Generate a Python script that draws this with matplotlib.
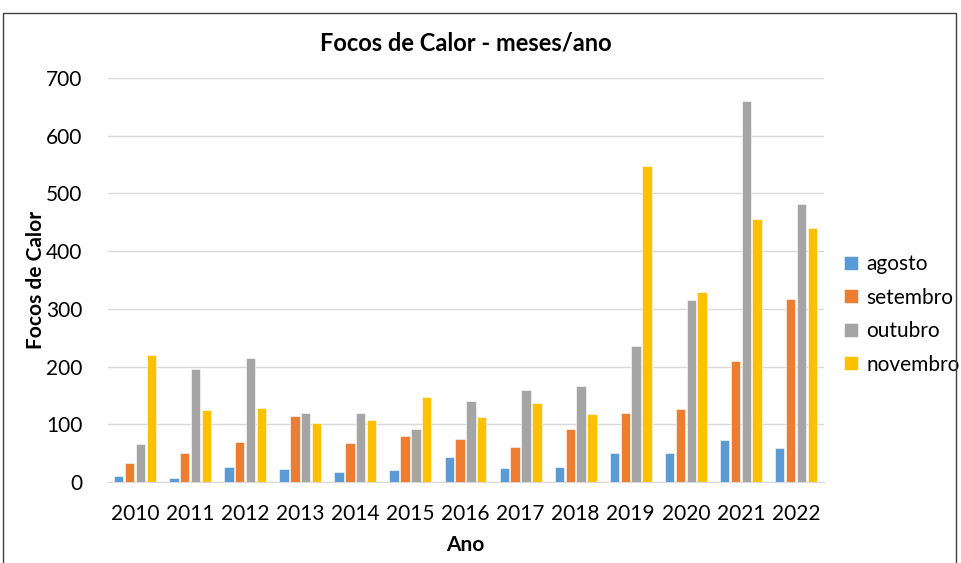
#!/usr/bin/env python3
# coding=utf8

import numpy as np
import matplotlib
matplotlib.use('Agg')
import matplotlib.pyplot as plt
from matplotlib.patches import Rectangle

anos = ['2010', '2011', '2012', '2013', '2014', '2015', '2016',
        '2017', '2018', '2019', '2020', '2021', '2022']
agosto = [10, 7, 26, 22, 18, 21, 43, 25, 26, 50, 50, 73, 59]
setembro = [33, 51, 70, 114, 68, 80, 75, 61, 91, 120, 127, 209, 317]
outubro = [66, 195, 215, 120, 120, 92, 140, 159, 166, 236, 316, 661, 481]
novembro = [220, 124, 128, 103, 107, 147, 113, 137, 118, 548, 330, 455, 440]

series = [('agosto', agosto, '#5B9BD5'),
          ('setembro', setembro, '#ED7D31'),
          ('outubro', outubro, '#A5A5A5'),
          ('novembro', novembro, '#FFC000')]

plt.rcParams['font.family'] = ['Lato', 'DejaVu Sans']

fig = plt.figure(figsize=(9.61, 5.63), dpi=100)
ax = fig.add_axes([107.5 / 961, 1 - 482 / 563, 716 / 961, 404 / 563])

x = np.arange(len(anos))
step = 0.197
width = 0.17
for i, (nome, vals, cor) in enumerate(series):
    ax.bar(x + (i - 1.5) * step, vals, width, color=cor, label=nome,
           edgecolor='white', linewidth=0.4, zorder=3)

ax.set_xlim(-0.5, len(anos) - 0.5)
ax.set_ylim(0, 700)
ax.set_yticks(range(0, 701, 100))
ax.set_xticks(x)
ax.set_xticklabels(anos)
ax.tick_params(axis='both', length=0, labelsize=15)
ax.tick_params(axis='x', pad=16)
ax.tick_params(axis='y', pad=18)
ax.grid(axis='y', color='#D9D9D9', linewidth=1, zorder=0)
for s in ['top', 'right', 'left']:
    ax.spines[s].set_visible(False)
ax.spines['bottom'].set_color('#D9D9D9')

ax.set_title('Focos de Calor - meses/ano', fontsize=17, fontweight='bold', pad=20)
ax.set_xlabel('Ano', fontsize=15, fontweight='bold', labelpad=8)
ax.set_ylabel('Focos de Calor', fontsize=15, fontweight='bold', labelpad=0)

ax.legend(loc='center left', bbox_to_anchor=(1.003, 0.415), frameon=False,
          fontsize=15, handlelength=0.65, handleheight=0.65, handletextpad=0.4,
          labelspacing=0.65)

fig.patches.append(Rectangle((3 / 961, -0.01), 953 / 961, 1 - 13 / 563 + 0.01,
                             transform=fig.transFigure, fill=False,
                             edgecolor='#404040', linewidth=1))

fig.savefig('out.png', dpi=100)
